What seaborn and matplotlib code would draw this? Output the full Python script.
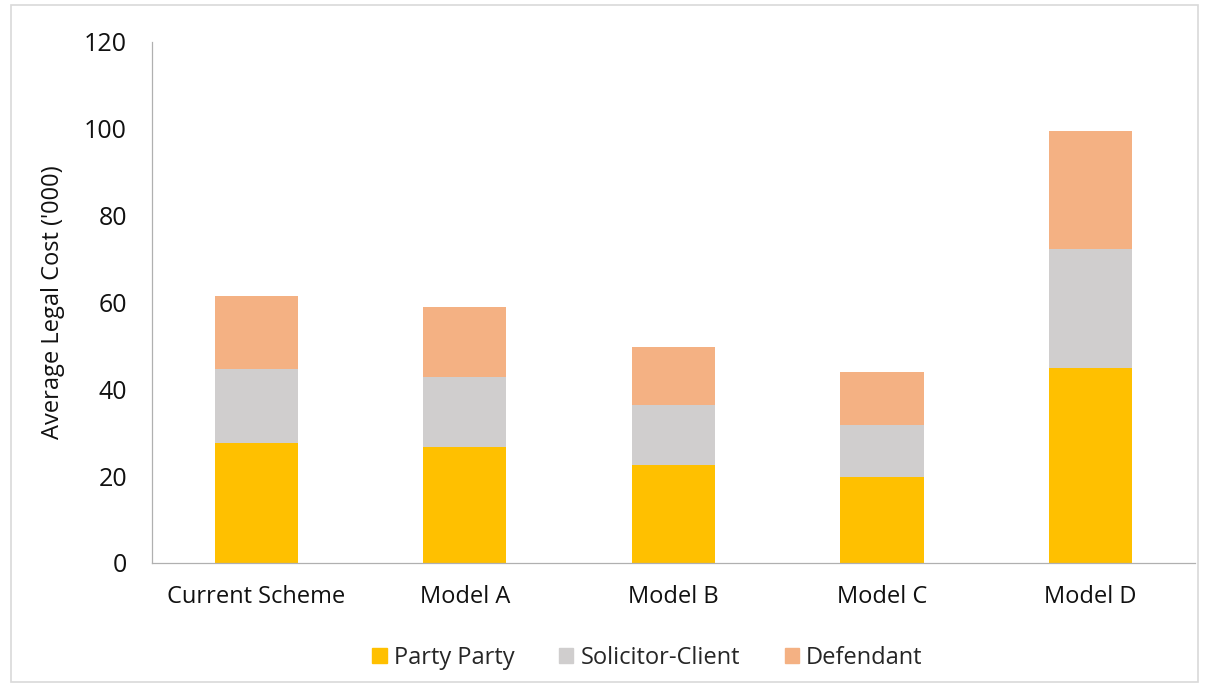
import matplotlib
matplotlib.use("Agg")
import matplotlib.pyplot as plt
from matplotlib.patches import Rectangle
import seaborn as sns
import numpy as np

categories = ["Current Scheme", "Model A", "Model B", "Model C", "Model D"]
party_party = [27.7, 26.6, 22.5, 19.8, 45.0]
solicitor_client = [16.9, 16.3, 13.9, 12.0, 27.3]
defendant = [16.9, 16.1, 13.4, 12.1, 27.2]

series_names = ["Party Party", "Solicitor-Client", "Defendant"]
colors = ["#FFC000", "#D0CECE", "#F4B183"]

sns.set_theme(style="white")
plt.rcParams["font.family"] = ["Open Sans", "DejaVu Sans"]

fig = plt.figure(figsize=(12.08, 6.87), dpi=100)
ax = fig.add_axes([0.1258, 0.1805, 0.8632, 0.7585])

# stacked bars: draw cumulative heights from the top layer down
layer1 = np.array(party_party)
layer2 = layer1 + np.array(solicitor_client)
layer3 = layer2 + np.array(defendant)
for heights, color in zip([layer3, layer2, layer1], colors[::-1]):
    sns.barplot(x=categories, y=heights, color=color, width=0.4,
                saturation=1, ax=ax, edgecolor="none", linewidth=0)

ax.set_ylim(0, 120)
ax.set_xlim(-0.5, 4.5)
ax.set_yticks(range(0, 121, 20))
ax.tick_params(axis="y", direction="in", length=8, width=0.8, colors="#999999",
               labelcolor="#111111", labelsize=18, pad=18)
ax.tick_params(axis="x", length=0, labelsize=17, labelcolor="#111111", pad=16)
ax.set_ylabel("Average Legal Cost ('000)", fontsize=17, color="#111111", labelpad=14)
ax.set_xlabel("")

for side in ["top", "right"]:
    ax.spines[side].set_visible(False)
for side in ["left", "bottom"]:
    ax.spines[side].set_color("#b0b0b0")
    ax.spines[side].set_linewidth(0.9)

handles = [Rectangle((0, 0), 1, 1, color=c) for c in colors]
fig.legend(handles, series_names, loc="center", bbox_to_anchor=(0.536, 0.042),
           ncol=3, frameon=False, fontsize=17, handlelength=0.6, handleheight=0.6,
           handletextpad=0.3, columnspacing=1.9)

# light frame round the whole chart
fig.patches.append(Rectangle((0.009, 0.008), 0.983, 0.985, transform=fig.transFigure,
                             fill=False, edgecolor="#d9d9d9", linewidth=1.2))

fig.savefig("out.png", dpi=100)
